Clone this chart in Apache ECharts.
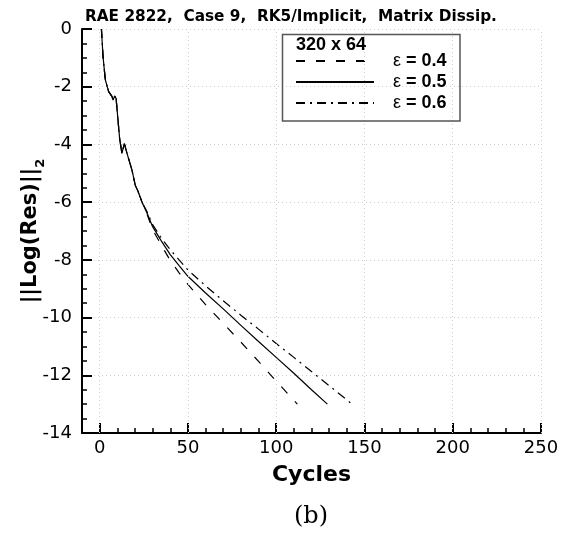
<!DOCTYPE html>
<html>
<head>
<meta charset="utf-8">
<script src="https://cdn.jsdelivr.net/npm/echarts@6/dist/echarts.min.js"></script>
<style>html,body{margin:0;padding:0;background:#fff}#c{width:568px;height:535px}</style>
</head>
<body>
<div id="c"></div>
<script>
// Shared initial transient (identical for all three runs)
var startCycles = [1, 1.9, 3.2, 5.1, 7, 7.6, 8.5, 9.3, 11.3, 12.6, 14, 15.5, 18.3, 20.2, 21.5, 24];
var startRes    = [0, -0.95, -1.76, -2.17, -2.34, -2.46, -2.32, -2.4, -3.79, -4.31, -3.97, -4.31, -4.89, -5.42, -5.59, -6.0];

// eps = 0.4
var cycles04 = [27, 30, 35, 40, 45, 50, 60, 70, 80, 90, 100, 112];
var res04    = [-6.45, -6.95, -7.5, -8.02, -8.45, -8.85, -9.55, -10.2, -10.85, -11.52, -12.2, -13.0];
// eps = 0.5
var cycles05 = [27, 30, 35, 40, 45, 50, 60, 70, 80, 90, 100, 110, 120, 129];
var res05    = [-6.4, -6.85, -7.35, -7.82, -8.2, -8.57, -9.15, -9.7, -10.27, -10.83, -11.38, -11.93, -12.5, -13.0];
// eps = 0.6
var cycles06 = [27, 30, 35, 40, 45, 50, 60, 70, 80, 90, 100, 110, 120, 130, 143];
var res06    = [-6.35, -6.78, -7.25, -7.65, -8.0, -8.35, -8.9, -9.42, -9.92, -10.4, -10.9, -11.38, -11.87, -12.36, -13.0];

var seriesNames = ['ε = 0.4', 'ε = 0.5', 'ε = 0.6'];
var xMajorTicks = [0, 50, 100, 150, 200, 250];

function pairs(xs, ys) {
  var out = [];
  for (var i = 0; i < startCycles.length; i++) out.push([startCycles[i], startRes[i]]);
  for (var j = 0; j < xs.length; j++) out.push([xs[j], ys[j]]);
  return out;
}

var FONT = 'DejaVu Sans';
var LFONT = 'Liberation Sans';
var chart = echarts.init(document.getElementById('c'), null, {renderer: 'canvas'});

var lineStyles = [
  {color: '#000', width: 1.2, type: [9, 11]},
  {color: '#000', width: 1.2, type: 'solid'},
  {color: '#000', width: 1.2, type: [9, 5, 2, 5]}
];
var dataSets = [pairs(cycles04, res04), pairs(cycles05, res05), pairs(cycles06, res06)];

var series = seriesNames.map(function (n, i) {
  return {
    name: n, type: 'line', data: dataSets[i], showSymbol: false, symbol: 'none',
    lineStyle: lineStyles[i], itemStyle: {color: '#000'}, animation: false, z: 3
  };
});
// dotted grid lines at x majors
series.push({
  type: 'line', data: [], silent: true, animation: false,
  markLine: {
    silent: true, symbol: 'none', label: {show: false}, animation: false,
    lineStyle: {color: '#cfcfcf', type: [1, 3], width: 1},
    data: xMajorTicks.map(function (v) { return {xAxis: v}; })
  }
});

chart.setOption({
  backgroundColor: '#fff',
  animation: false,
  title: {
    text: 'RAE 2822,  Case 9,  RK5/Implicit,  Matrix Dissip.',
    left: 80, top: 5,
    textStyle: {fontFamily: FONT, fontSize: 15.3, fontWeight: 'bold', color: '#000'}
  },
  grid: {left: 82, right: 27, top: 29, bottom: 102},
  legend: {
    data: seriesNames.map(function (n) { return {name: n, itemStyle: {opacity: 0}}; }),
    orient: 'vertical',
    left: 290, top: 47,
    itemWidth: 78, itemHeight: 12, itemGap: 3,
    selectedMode: false,
    itemStyle: {opacity: 0},
    textStyle: {
      fontFamily: LFONT, fontSize: 18, color: '#000', padding: [0, 0, 0, 14],
      rich: {
        e: {fontFamily: LFONT, fontSize: 18, fontWeight: 'normal', color: '#000'},
        b: {fontFamily: LFONT, fontSize: 18, fontWeight: 'bold', color: '#000'}
      }
    },
    formatter: function (n) { return '{e|ε}{b| = ' + n.split('= ')[1] + '}'; }
  },
  graphic: [
    {type: 'rect', shape: {x: 282.5, y: 34.5, width: 177.5, height: 86.5},
     style: {fill: null, stroke: '#555', lineWidth: 1.5}, z: 10},
    {type: 'text', x: 296, y: 45, style: {text: '320 x 64', font: 'bold 18px "Liberation Sans"', fill: '#000', textVerticalAlign: 'middle'}, z: 10},
    {type: 'text', x: 311, y: 517, style: {text: '(b)', font: '24px "DejaVu Serif"', fill: '#000', textAlign: 'center', textVerticalAlign: 'middle'}, z: 10}
  ],
  xAxis: [{
    type: 'value', min: -10, max: 250, position: 'bottom',
    name: 'Cycles', nameLocation: 'middle', nameGap: 31, nameMoveOverlap: false,
    nameTextStyle: {fontFamily: FONT, fontSize: 22, fontWeight: 'bold', color: '#000'},
    axisLine: {show: true, onZero: false, lineStyle: {color: '#000', width: 2}},
    axisTick: {show: true, inside: true, length: 10, customValues: xMajorTicks, lineStyle: {color: '#000', width: 2}},
    axisLabel: {fontFamily: FONT, fontSize: 18, color: '#000', margin: 6, customValues: xMajorTicks},
    splitLine: {show: false}
  }, {
    // minor ticks every 10 cycles, drawn on the bottom edge
    type: 'value', min: -10, max: 250, interval: 10, position: 'top', offset: -404,
    axisLine: {show: false},
    axisTick: {show: true, inside: false, length: 5, lineStyle: {color: '#000', width: 1.5}},
    axisLabel: {show: false},
    splitLine: {show: false}
  }],
  yAxis: {
    type: 'value', min: -14, max: 0, interval: 2,
    name: '{a|||Log(Res)||}{s|2}', nameLocation: 'middle', nameGap: 41, nameRotate: 90,
    nameMoveOverlap: false,
    nameTextStyle: {
      fontFamily: FONT, fontSize: 21, fontWeight: 'bold', color: '#000',
      rich: {
        a: {fontFamily: FONT, fontSize: 21, fontWeight: 'bold', color: '#000', lineHeight: 26, verticalAlign: 'bottom'},
        s: {fontFamily: FONT, fontSize: 13, fontWeight: 'bold', color: '#000', lineHeight: 26, verticalAlign: 'bottom', padding: [0, 0, -6, 0]}
      }
    },
    axisLine: {show: true, onZero: false, lineStyle: {color: '#000', width: 2}},
    axisTick: {show: true, inside: true, length: 10, lineStyle: {color: '#000', width: 2}},
    minorTick: {show: true, splitNumber: 4, length: 5, lineStyle: {color: '#000', width: 1.5}},
    axisLabel: {fontFamily: FONT, fontSize: 18, color: '#000', margin: 10},
    splitLine: {show: true, lineStyle: {color: '#cfcfcf', type: [1, 3], width: 1}}
  },
  series: series
});
</script>
</body>
</html>
